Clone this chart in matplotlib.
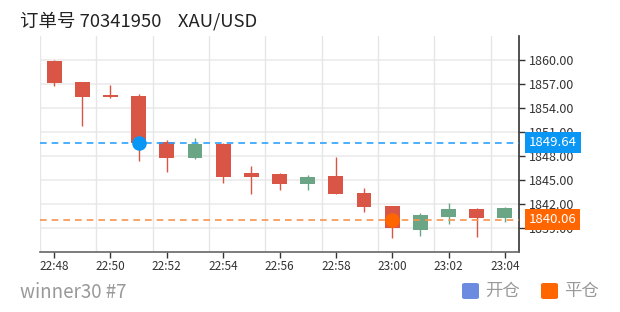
import matplotlib
matplotlib.use("Agg")
import matplotlib.pyplot as plt
import numpy as np
from matplotlib.patches import FancyBboxPatch

plt.rcParams['font.family'] = ['Noto Sans CJK SC', 'DejaVu Sans']

times = ["22:48", "22:49", "22:50", "22:51", "22:52", "22:53", "22:54", "22:55", "22:56",
         "22:57", "22:58", "22:59", "23:00", "23:01", "23:02", "23:03", "23:04"]
opens = [1859.9, 1857.2, 1855.5, 1855.5, 1849.8, 1847.7, 1849.5, 1845.9, 1845.8,
         1844.5, 1845.5, 1843.4, 1841.7, 1838.8, 1840.4, 1841.4, 1840.2]
closes = [1857.1, 1855.4, 1855.4, 1849.6, 1847.8, 1849.5, 1845.4, 1845.4, 1844.5,
          1845.4, 1843.3, 1841.6, 1839.0, 1840.6, 1841.4, 1840.2, 1841.5]
highs = [1860.0, 1857.3, 1856.85, 1855.8, 1850.0, 1850.3, 1849.6, 1846.7, 1845.9,
         1845.6, 1847.9, 1844.0, 1841.8, 1840.85, 1842.1, 1841.5, 1841.6]
lows = [1856.8, 1851.7, 1855.3, 1847.4, 1846.0, 1847.6, 1844.6, 1843.3, 1843.8,
        1843.8, 1843.3, 1841.0, 1837.8, 1838.0, 1839.55, 1837.9, 1839.7]

open_time, open_price = "22:51", 1849.64
close_time, close_price = "23:00", 1840.06
yticks = [1839, 1842, 1845, 1848, 1851, 1854, 1857, 1860]
xtick_labels = times[::2]

title = "订单号 70341950    XAU/USD"
footer = "winner30 #7"
legend_items = ["开仓", "平仓"]

RED = '#d95545'
GREEN = '#6aa685'
BLUE = '#0a96f5'
ORANGE = '#ff6600'

fig = plt.figure(figsize=(6.2, 3.12), dpi=100)
ax = fig.add_axes([40/620, 1-252/312, 479/620, 216/312])

x = np.arange(len(times))
o = np.array(opens); c = np.array(closes)
colors = [RED if oo > cc else GREEN for oo, cc in zip(o, c)]
bottoms = np.minimum(o, c)
heights = np.maximum(np.abs(c - o), 0.2)
ax.vlines(x, lows, highs, colors=colors, linewidth=1.0, zorder=3)
ax.bar(x, heights, bottom=bottoms, width=0.53, color=colors, zorder=4, linewidth=0)

ax.set_xlim(-0.5, len(times) - 0.5)
ax.set_ylim(1836, 1863)

# grid
for yv in yticks:
    ax.axhline(yv, color='#ebebeb', linewidth=1.2, zorder=1)
for xv in np.arange(-0.5, len(times) - 0.5, 2):
    ax.axvline(xv, color='#e6e6e6', linewidth=1.0, zorder=1)

# price lines
ax.axhline(open_price, color='#2ea3ff', linestyle=(0, (4, 3)), linewidth=1.2, zorder=5)
ax.axhline(close_price, color='#f7944f', linestyle=(0, (4, 3)), linewidth=1.2, zorder=5)

ax.plot([times.index(open_time)], [open_price], 'o', color=BLUE, markersize=10.5,
        markeredgewidth=0, zorder=6)
ax.plot([times.index(close_time)], [close_price], 'o', color=ORANGE, markersize=10.5,
        markeredgewidth=0, zorder=6)

for spine in ['top', 'left']:
    ax.spines[spine].set_visible(False)
ax.spines['right'].set_color('#333333')
ax.spines['right'].set_linewidth(1.2)
ax.spines['bottom'].set_color('#666666')
ax.spines['bottom'].set_linewidth(1.2)

ax.yaxis.tick_right()
ax.set_yticks(yticks)
ax.set_yticklabels([f"{v:.2f}" for v in yticks])
ax.set_xticks(x[::2])
ax.set_xticklabels(xtick_labels)
ax.tick_params(axis='y', colors='#333333', labelsize=9, length=4, width=1, pad=3)
ax.tick_params(axis='x', colors='#333333', labelsize=8.5, length=4, width=1, pad=2)
for lab in ax.get_yticklabels() + ax.get_xticklabels():
    lab.set_color('#333333')

# price tags
for price, col in [(open_price, BLUE), (close_price, ORANGE)]:
    ax.annotate(f"{price:.2f}", xy=(1, price), xycoords=('axes fraction', 'data'),
                xytext=(7, 0), textcoords='offset points', ha='left', va='center',
                color='white', fontsize=9.5, zorder=10, annotation_clip=False,
                bbox=dict(boxstyle='square,pad=0.3', fc=col, ec='none'))

fig.text(20/620, 1-21/312, title, fontsize=13.3, color='#222222', ha='left', va='center')
fig.text(20/620, 1-292/312, footer, fontsize=13.5, color='#999999', ha='left', va='center')

# legend
for (x0, lab, col) in [(462, legend_items[0], '#6b8be0'), (541, legend_items[1], ORANGE)]:
    p = FancyBboxPatch((x0/620, 1-299/312), 17/620, 16/312,
                       boxstyle='round,pad=0,rounding_size=0.005',
                       transform=fig.transFigure, fc=col, ec='none')
    fig.patches.append(p)
    fig.text((x0+23)/620, 1-291/312, lab, fontsize=12.5, color='#999999',
             ha='left', va='center')

fig.savefig('out.png', dpi=100)
